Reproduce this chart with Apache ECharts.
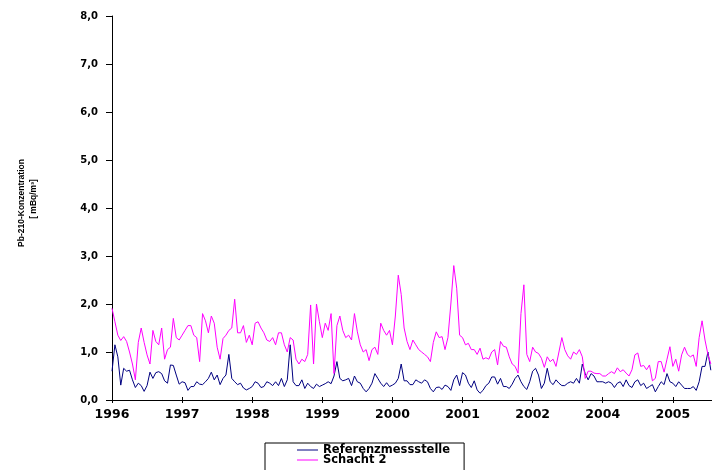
<!DOCTYPE html>
<html>
<head>
<meta charset="utf-8">
<script src="https://cdn.jsdelivr.net/npm/echarts@6/dist/echarts.min.js"></script>
<style>html,body{margin:0;padding:0;background:#fff}#c{width:712px;height:470px}</style>
</head>
<body>
<div id="c"></div>
<script>
// Tick labels on the time axis (as printed in the original)
const tickLabels = ['1996','1997','1998','1999','2000','2001','2002','2004','2005'];
const pointsPerTick = 24;   // samples between two labelled ticks
const seriesNames = ['Referenzmessstelle', 'Schacht 2'];

// Pb-210 concentration, Referenzmessstelle
const referenz = [
0.6,1.15,0.9,0.31,0.66,0.6,0.62,0.42,0.26,0.35,0.3,0.18,0.3,0.58,0.45,0.57,0.59,0.55,0.4,0.35,
0.73,0.72,0.52,0.33,0.38,0.36,0.2,0.28,0.28,0.38,0.33,0.32,0.38,0.45,0.58,0.42,0.52,0.32,0.45,0.52,
0.95,0.45,0.38,0.32,0.35,0.25,0.21,0.24,0.28,0.38,0.35,0.26,0.28,0.38,0.35,0.3,0.38,0.3,0.45,0.28,
0.42,1.15,0.38,0.3,0.3,0.42,0.24,0.35,0.28,0.24,0.33,0.28,0.31,0.34,0.38,0.34,0.5,0.8,0.45,0.4,
0.42,0.45,0.3,0.5,0.38,0.35,0.24,0.17,0.24,0.35,0.55,0.45,0.35,0.28,0.36,0.28,0.31,0.35,0.45,0.75,
0.4,0.4,0.32,0.32,0.42,0.38,0.35,0.42,0.38,0.24,0.17,0.26,0.27,0.22,0.31,0.28,0.2,0.42,0.52,0.3,
0.57,0.52,0.35,0.26,0.4,0.21,0.14,0.2,0.3,0.35,0.48,0.48,0.33,0.45,0.28,0.28,0.24,0.33,0.45,0.52,
0.38,0.28,0.22,0.38,0.6,0.66,0.52,0.24,0.35,0.66,0.38,0.32,0.42,0.35,0.3,0.3,0.35,0.38,0.35,0.45,
0.35,0.75,0.55,0.42,0.55,0.5,0.38,0.38,0.38,0.35,0.38,0.35,0.26,0.35,0.38,0.28,0.42,0.3,0.26,0.38,
0.42,0.3,0.35,0.24,0.28,0.32,0.17,0.28,0.38,0.32,0.55,0.38,0.35,0.28,0.38,0.31,0.24,0.24,0.24,0.28,
0.2,0.38,0.7,0.7,1.0,0.62
];

// Pb-210 concentration, Schacht 2
const schacht2 = [
1.91,1.63,1.35,1.24,1.32,1.22,1.0,0.75,0.42,1.2,1.5,1.2,0.94,0.75,1.45,1.22,1.15,1.5,0.85,1.05,
1.1,1.7,1.3,1.25,1.35,1.45,1.55,1.55,1.35,1.3,0.8,1.8,1.65,1.4,1.75,1.6,1.1,0.85,1.28,1.35,
1.45,1.5,2.1,1.4,1.4,1.55,1.2,1.35,1.15,1.6,1.63,1.5,1.4,1.25,1.22,1.3,1.15,1.4,1.4,1.15,
1.0,1.3,1.25,0.85,0.75,0.85,0.8,0.95,1.98,0.75,2.0,1.63,1.3,1.6,1.45,1.8,0.55,1.55,1.75,1.45,
1.3,1.35,1.25,1.8,1.42,1.15,1.0,1.05,0.82,1.05,1.1,0.95,1.6,1.45,1.35,1.45,1.15,1.75,2.6,2.2,
1.5,1.22,1.05,1.25,1.15,1.05,1.0,0.95,0.9,0.8,1.2,1.42,1.3,1.32,1.05,1.3,2.0,2.8,2.33,1.35,
1.3,1.15,1.18,1.05,1.05,0.95,1.08,0.85,0.88,0.85,1.0,1.05,0.73,1.22,1.12,1.1,0.9,0.75,0.7,0.56,
1.8,2.4,0.95,0.8,1.1,1.0,0.97,0.87,0.68,0.9,0.8,0.85,0.7,1.0,1.3,1.05,0.92,0.85,1.0,0.95,
1.05,0.9,0.45,0.6,0.6,0.56,0.55,0.55,0.5,0.5,0.55,0.59,0.55,0.67,0.59,0.63,0.56,0.5,0.63,0.94,
0.98,0.7,0.72,0.63,0.73,0.4,0.45,0.8,0.8,0.58,0.85,1.11,0.7,0.85,0.6,0.94,1.1,0.95,0.9,0.94,
0.7,1.3,1.65,1.25,0.95,0.75
];

const tickValues = tickLabels.map((_, k) => k * pointsPerTick);
const toPairs = arr => arr.map((v, i) => [i, v]);

const chart = echarts.init(document.getElementById('c'), null, {renderer: 'canvas'});
chart.setOption({
  backgroundColor: '#fff',
  animation: false,
  grid: {left: 112, right: 0, top: 16, bottom: 70, containLabel: false},
  xAxis: [{
    type: 'value', min: 0, max: 205.4,
    axisLine: {show: true, onZero: false, lineStyle: {color: '#000', width: 1}},
    axisTick: {show: true, length: 3, customValues: tickValues, lineStyle: {color: '#000'}},
    axisLabel: {
      customValues: tickValues, margin: 8,
      color: '#000', fontFamily: 'DejaVu Sans', fontWeight: 'bold', fontSize: 12.5,
      formatter: v => tickLabels[Math.round(v / pointsPerTick)] || ''
    },
    splitLine: {show: false}
  }, {
    type: 'value', min: 0, max: 205.4, position: 'bottom',
    axisLine: {show: false},
    axisTick: {show: true, inside: true, length: 3, customValues: tickValues, lineStyle: {color: '#000'}},
    axisLabel: {show: false},
    splitLine: {show: false}
  }],
  yAxis: {
    type: 'value', min: 0, max: 8, interval: 1,
    axisLine: {show: true, lineStyle: {color: '#000', width: 1}},
    axisTick: {show: true, length: 6, lineStyle: {color: '#000'}},
    axisLabel: {
      margin: 14, color: '#000', fontFamily: 'DejaVu Sans', fontWeight: 'bold', fontSize: 10,
      formatter: v => v.toFixed(1).replace('.', ',')
    },
    splitLine: {show: false}
  },
  legend: {
    orient: 'vertical', left: 265, top: 443, height: 60,
    padding: [1, 14, 30, 32],
    itemGap: -2, itemWidth: 21, itemHeight: 1, icon: 'rect',
    borderColor: '#000', borderWidth: 1,
    textStyle: {color: '#000', fontFamily: 'DejaVu Sans', fontWeight: 'bold', fontSize: 11.5, lineHeight: 10},
    data: seriesNames
  },
  graphic: [
    {type: 'text', x: 22, y: 203, rotation: Math.PI / 2,
     style: {text: 'Pb-210-Konzentration', font: 'bold 8.5px "Liberation Sans"', fill: '#000', align: 'center', verticalAlign: 'middle'}},
    {type: 'text', x: 34, y: 199, rotation: Math.PI / 2,
     style: {text: '[ mBq/m³]', font: 'bold 8.5px "Liberation Sans"', fill: '#000', align: 'center', verticalAlign: 'middle'}}
  ],
  series: [
    {name: seriesNames[0], type: 'line', xAxisIndex: 0, data: toPairs(referenz), symbol: 'none',
     lineStyle: {color: '#000080', width: 1}, itemStyle: {color: '#000080'}},
    {name: seriesNames[1], type: 'line', xAxisIndex: 0, data: toPairs(schacht2), symbol: 'none',
     lineStyle: {color: '#ff00ff', width: 1}, itemStyle: {color: '#ff00ff'}}
  ]
});
</script>
</body>
</html>
